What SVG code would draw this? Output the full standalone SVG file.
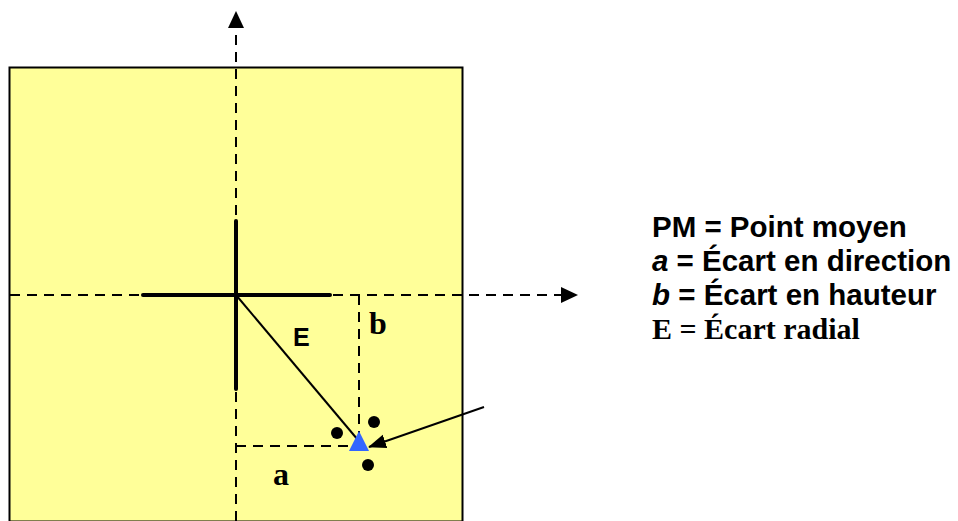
<svg xmlns="http://www.w3.org/2000/svg" width="958" height="521" viewBox="0 0 958 521">
<style>
.axis{stroke:#000;stroke-width:2;stroke-dasharray:10,7;fill:none}
.cross{stroke:#000;stroke-width:4;stroke-linecap:round}
.dash{stroke:#000;stroke-width:2;stroke-dasharray:10,7;fill:none}
.sans{font-family:"Liberation Sans",Arial,sans-serif;font-weight:bold}
.serif{font-family:"Liberation Serif","Times New Roman",serif;font-weight:bold}
</style>
<defs>
<marker id="ah" markerWidth="18" markerHeight="16" refX="17" refY="8" orient="auto" markerUnits="userSpaceOnUse">
<path d="M0,1 L18,8 L0,15 Z" fill="#000"/>
</marker>
</defs>
<g id="target">
<rect x="9.5" y="67.5" width="453" height="454" fill="#FFFF99" stroke="#000" stroke-width="2"/>
</g>
<g id="connectors">
<line class="axis" x1="236" y1="521" x2="236" y2="27"/>
<path d="M236,11 L244,28 L228,28 Z" fill="#000"/>
<line class="axis" x1="10" y1="295" x2="561" y2="295"/>
<path d="M578,295 L561,287 L561,303 Z" fill="#000"/>
<line class="cross" x1="236" y1="221" x2="236" y2="389"/>
<line class="cross" x1="143" y1="295" x2="330" y2="295"/>
<line class="dash" x1="359" y1="295" x2="359" y2="445"/>
<line class="dash" x1="236" y1="446" x2="357" y2="446"/>
<line x1="236" y1="295" x2="358" y2="440" stroke="#000" stroke-width="2"/>
<line x1="484" y1="407" x2="369" y2="447" stroke="#000" stroke-width="2" marker-end="url(#ah)"/>
</g>
<g id="pm">
<path d="M359,431 L369,451 L349,451 Z" fill="#3366FF"/>
</g>
<g id="impacts">
<circle cx="374" cy="422" r="6"/>
<circle cx="337" cy="433" r="6"/>
<circle cx="368" cy="465" r="6"/>
</g>
<g id="labels">
<text class="sans" x="293" y="346" font-size="25">E</text>
<text class="serif" x="369" y="334" font-size="32">b</text>
<text class="serif" x="273" y="485" font-size="32">a</text>
</g>
<g id="legend">
<text class="sans" x="652" y="237" font-size="29.5">PM = Point moyen</text>
<text class="sans" x="652" y="271" font-size="29.5"><tspan font-style="italic">a</tspan> = Écart en direction</text>
<text class="sans" x="652" y="305" font-size="29.5"><tspan font-style="italic">b</tspan> = Écart en hauteur</text>
<text class="serif" x="652" y="339" font-size="30">E = Écart radial</text>
</g>
</svg>
